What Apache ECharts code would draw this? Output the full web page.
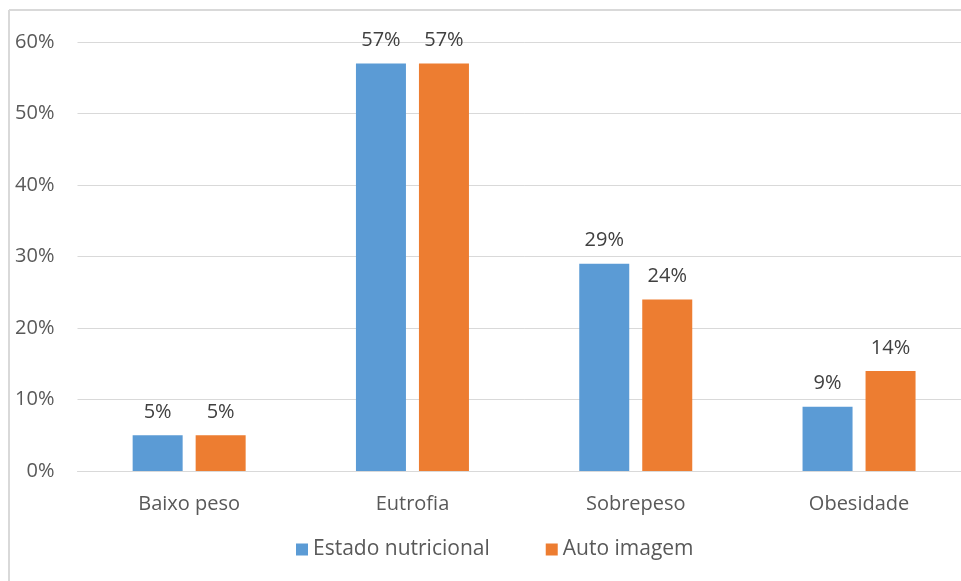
<!DOCTYPE html>
<html><head><meta charset="utf-8">
<script src="https://cdn.jsdelivr.net/npm/echarts@6/dist/echarts.min.js"></script>
<style>html,body{margin:0;padding:0;background:#fff;overflow:hidden;width:961px;height:581px;}#c{width:971px;height:581px;}</style>
</head><body><div id="c"></div>
<script>
const categories = ['Baixo peso', 'Eutrofia', 'Sobrepeso', 'Obesidade'];
const estadoNutricional = [5, 57, 29, 9];
const autoImagem = [5, 57, 24, 14];
const yTicks = [0, 10, 20, 30, 40, 50, 60];

const FONT = '"Open Sans", "Noto Sans", sans-serif';
const FS = 20;
const chart = echarts.init(document.getElementById('c'), null, {renderer: 'canvas'});
chart.setOption({
  animation: false,
  backgroundColor: '#fff',
  textStyle: {fontFamily: FONT},
  graphic: [
    {type: 'line', shape: {x1: 9, y1: 10, x2: 971, y2: 10}, style: {stroke: '#d9d9d9', lineWidth: 2}},
    {type: 'line', shape: {x1: 9, y1: 10, x2: 9, y2: 581}, style: {stroke: '#d9d9d9', lineWidth: 2}}
  ],
  grid: {left: 77.5, right: 0.3, top: 42, bottom: 110, containLabel: false},
  legend: {
    bottom: 21, left: 296, padding: 0,
    itemWidth: 12, itemHeight: 12, itemGap: 56,
    icon: 'rect',
    textStyle: {color: '#595959', fontSize: 21, fontFamily: FONT},
    data: ['Estado nutricional', 'Auto imagem']
  },
  xAxis: {
    type: 'category', data: categories,
    axisLine: {lineStyle: {color: '#d9d9d9', width: 1}},
    axisTick: {show: false},
    axisLabel: {color: '#595959', fontSize: FS, margin: 23, fontFamily: FONT}
  },
  yAxis: {
    type: 'value', min: yTicks[0], max: yTicks[yTicks.length - 1], interval: 10,
    axisLine: {show: false}, axisTick: {show: false},
    splitLine: {lineStyle: {color: '#d9d9d9', width: 1}},
    axisLabel: {color: '#595959', fontSize: FS, margin: 23, formatter: v => v + '%', fontFamily: FONT}
  },
  series: [
    {name: 'Estado nutricional', type: 'bar', data: estadoNutricional, barWidth: 50, barGap: '26%',
     itemStyle: {color: '#5b9bd5'},
     label: {show: true, position: 'top', distance: 13, color: '#404040', fontSize: FS, formatter: p => p.value + '%', fontFamily: FONT}},
    {name: 'Auto imagem', type: 'bar', data: autoImagem, barWidth: 50, barGap: '26%',
     itemStyle: {color: '#ed7d31'},
     label: {show: true, position: 'top', distance: 13, color: '#404040', fontSize: FS, formatter: p => p.value + '%', fontFamily: FONT}}
  ]
});
</script></body></html>
